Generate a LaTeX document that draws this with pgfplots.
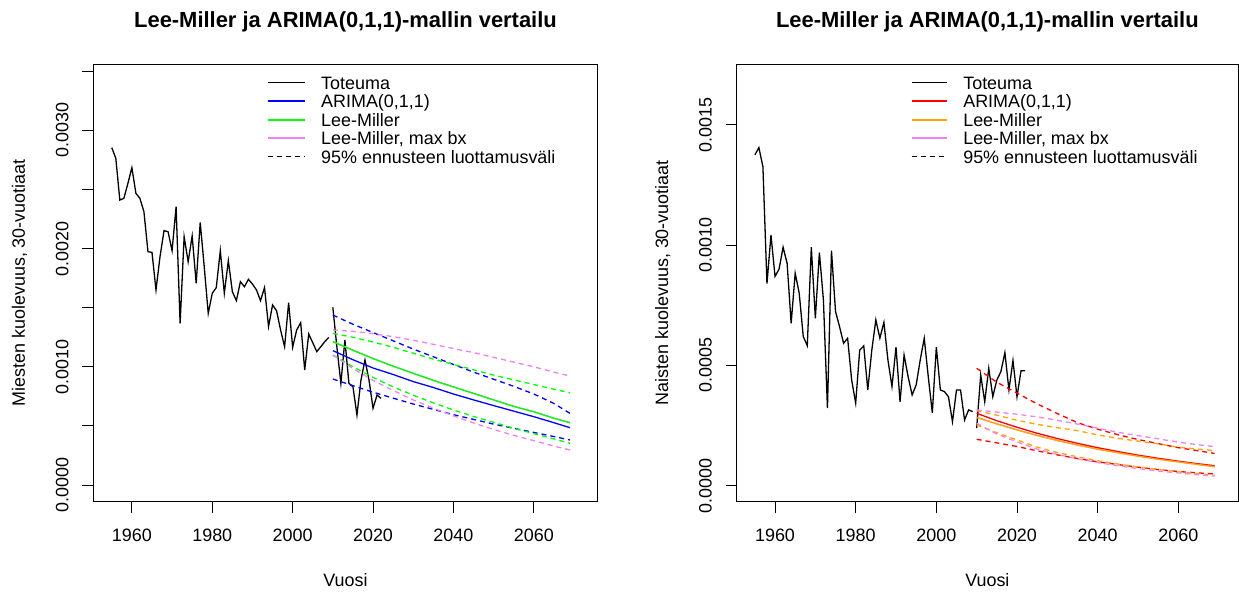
\documentclass[border=0pt]{standalone}
\usepackage{fontspec}
\setmainfont{Liberation Sans}
\usepackage{pgfplots}
\pgfplotsset{compat=1.18}
\definecolor{rblue}{RGB}{0,0,255}
\definecolor{rgreen}{RGB}{0,255,0}
\definecolor{rviolet}{RGB}{238,130,238}
\definecolor{rred}{RGB}{255,0,0}
\definecolor{rorange}{RGB}{255,165,0}
\tikzset{rdash/.style={dash pattern=on 5bp off 4bp},
  legline/.style={line width=2bp},
  legtext/.style={anchor=base west, yshift=-6.4bp, inner sep=0pt, font=\fontsize{18}{21.6}\selectfont}}
\pgfplotsset{
  rstyle/.style={
    scale only axis,
    height=437.7bp,
    clip=false,
    scaled y ticks=false, scaled x ticks=false,
    axis line style={line width=0.9bp},
    tick style={line width=0.9bp, black},
    major tick length=11bp,
    tick align=outside,
    xtick pos=bottom, ytick pos=left,
    xtick={1960,1980,2000,2020,2040,2060},
    xticklabels={1960,1980,2000,2020,2040,2060},
    xticklabel style={anchor=base, yshift=-28.5bp, inner sep=0pt, font=\fontsize{18}{21.6}\selectfont},
    yticklabel style={xshift=-14bp, rotate=90, anchor=base, inner sep=0pt, font=\fontsize{18}{21.6}\selectfont},
    every axis title/.style={at={(axis description cs:0.5,1)}, anchor=base, yshift=36bp, font=\fontsize{22}{26}\selectfont\bfseries},
    every axis x label/.style={at={(axis description cs:0.5,0)}, anchor=base, yshift=-85bp, font=\fontsize{18}{21.6}\selectfont},
    every axis y label/.style={at={(axis description cs:0,0.5)}, xshift=-68.5bp, rotate=90, anchor=base, font=\fontsize{18}{21.6}\selectfont},
    every axis plot/.append style={line width=1.3bp},
    title={Lee-Miller ja ARIMA(0,1,1)-mallin vertailu},
    xlabel={Vuosi},
  },
}
\begin{document}
\begin{tikzpicture}[font=\fontsize{18}{21.6}\selectfont]
\useasboundingbox (0,0) rectangle (1239bp,594bp);
% ---------------- Left panel: men ----------------
\begin{axis}[rstyle,
  at={(93.3bp,92.3bp)}, anchor=south west,
  width=504.4bp,
  xmin=1950.4, xmax=2075.9,
  ymin=-0.0001413, ymax=0.003562,
  ytick={0,0.0005,0.001,0.0015,0.002,0.0025,0.003,0.0035},
  yticklabels={0.0000,{},0.0010,{},0.0020,{},0.0030,{}},
  ylabel={Miesten kuolevuus, 30-vuotiaat},
]
\addplot[black] table {
1955 2.854e-3
1956 2.764e-3
1957 2.411e-3
1958 2.425e-3
1959 2.55e-3
1960 2.685e-3
1961 2.468e-3
1962 2.425e-3
1963 2.312e-3
1964 1.974e-3
1965 1.968e-3
1966 1.65e-3
1967 1.932e-3
1968 2.152e-3
1969 2.143e-3
1970 1.983e-3
1971 2.355e-3
1972 1.368e-3
1973 2.101e-3
1974 1.889e-3
1975 2.107e-3
1976 1.706e-3
1977 2.222e-3
1978 1.847e-3
1979 1.452e-3
1980 1.622e-3
1981 1.67e-3
1982 1.983e-3
1983 1.622e-3
1984 1.898e-3
1985 1.636e-3
1986 1.56e-3
1987 1.72e-3
1988 1.678e-3
1989 1.74e-3
1990 1.70e-3
1991 1.65e-3
1992 1.56e-3
1993 1.67e-3
1994 1.34e-3
1995 1.523e-3
1996 1.475e-3
1997 1.311e-3
1998 1.17e-3
1999 1.543e-3
2000 1.165e-3
2001 1.311e-3
2002 1.373e-3
2003 0.973e-3
2004 1.277e-3
2005 1.204e-3
2006 1.128e-3
2007 1.17e-3
2008 1.213e-3
2009 1.249e-3
};
\addplot[black] table {
2010 1.503e-3
2011 1.17e-3
2012 0.86e-3
2013 1.227e-3
2014 0.86e-3
2015 0.832e-3
2016 0.592e-3
2017 0.888e-3
2018 1.058e-3
2019 0.888e-3
2020 0.649e-3
2021 0.761e-3
2022 0.733e-3
};
\addplot[rviolet] table {
2010 1.213e-3
2015 1.14e-3
2020 1.07e-3
2025 1.005e-3
2030 0.945e-3
2035 0.885e-3
2040 0.83e-3
2045 0.775e-3
2050 0.72e-3
2055 0.665e-3
2060 0.62e-3
2065 0.565e-3
2069 0.527e-3
};
\addplot[rblue] table {
2010 1.137e-3
2015 1.06e-3
2020 0.99e-3
2025 0.935e-3
2030 0.875e-3
2035 0.825e-3
2040 0.77e-3
2045 0.72e-3
2050 0.672e-3
2055 0.625e-3
2060 0.578e-3
2065 0.527e-3
2069 0.485e-3
};
\addplot[rblue, rdash] table {
2010 1.438e-3
2015 1.36e-3
2020 1.29e-3
2025 1.22e-3
2030 1.15e-3
2035 1.085e-3
2040 1.02e-3
2045 0.955e-3
2050 0.895e-3
2055 0.835e-3
2060 0.77e-3
2065 0.69e-3
2069 0.606e-3
};
\addplot[rblue, rdash] table {
2010 0.897e-3
2015 0.84e-3
2020 0.785e-3
2025 0.735e-3
2030 0.685e-3
2035 0.64e-3
2040 0.595e-3
2045 0.555e-3
2050 0.515e-3
2055 0.48e-3
2060 0.445e-3
2065 0.41e-3
2069 0.381e-3
};
\addplot[rgreen] table {
2010 1.213e-3
2015 1.14e-3
2020 1.07e-3
2025 1.005e-3
2030 0.945e-3
2035 0.885e-3
2040 0.83e-3
2045 0.775e-3
2050 0.72e-3
2055 0.665e-3
2060 0.62e-3
2065 0.565e-3
2069 0.527e-3
};
\addplot[rgreen, rdash] table {
2010 1.283e-3
2015 1.25e-3
2020 1.21e-3
2025 1.165e-3
2030 1.115e-3
2035 1.065e-3
2040 1.02e-3
2045 0.975e-3
2050 0.93e-3
2055 0.89e-3
2060 0.85e-3
2065 0.81e-3
2069 0.781e-3
};
\addplot[rgreen, rdash] table {
2010 1.10e-3
2015 1.0e-3
2020 0.91e-3
2025 0.83e-3
2030 0.76e-3
2035 0.695e-3
2040 0.635e-3
2045 0.58e-3
2050 0.53e-3
2055 0.48e-3
2060 0.435e-3
2065 0.39e-3
2069 0.353e-3
};
\addplot[rviolet, rdash] table {
2010 1.311e-3
2015 1.30e-3
2020 1.28e-3
2025 1.255e-3
2030 1.225e-3
2035 1.19e-3
2040 1.155e-3
2045 1.12e-3
2050 1.08e-3
2055 1.04e-3
2060 1.0e-3
2065 0.955e-3
2069 0.922e-3
};
\addplot[rviolet, rdash] table {
2010 1.10e-3
2015 0.985e-3
2020 0.885e-3
2025 0.80e-3
2030 0.72e-3
2035 0.65e-3
2040 0.585e-3
2045 0.525e-3
2050 0.47e-3
2055 0.42e-3
2060 0.375e-3
2065 0.33e-3
2069 0.296e-3
};
% legend (no box)
\draw[black, line width=1.3bp] (axis description cs:0.3464,0.9573) -- (axis description cs:0.4197,0.9573);
\draw[rblue, legline] (axis description cs:0.3464,0.9150) -- (axis description cs:0.4197,0.9150);
\draw[rgreen, legline] (axis description cs:0.3464,0.8728) -- (axis description cs:0.4197,0.8728);
\draw[rviolet, legline] (axis description cs:0.3464,0.8305) -- (axis description cs:0.4197,0.8305);
\draw[black, rdash, line width=1.3bp] (axis description cs:0.3464,0.7882) -- (axis description cs:0.4197,0.7882);
\node[legtext] at (axis description cs:0.4514,0.9573) {Toteuma};
\node[legtext] at (axis description cs:0.4514,0.9150) {ARIMA(0,1,1)};
\node[legtext] at (axis description cs:0.4514,0.8728) {Lee-Miller};
\node[legtext] at (axis description cs:0.4514,0.8305) {Lee-Miller, max bx};
\node[legtext] at (axis description cs:0.4514,0.7882) {95\% ennusteen luottamusväli};
\end{axis}
% ---------------- Right panel: women ----------------
\begin{axis}[rstyle,
  at={(736.7bp,92.3bp)}, anchor=south west,
  width=501.3bp,
  xmin=1950.5, xmax=2074.8,
  ymin=-0.0000665, ymax=0.0017527,
  ytick={0,0.0005,0.001,0.0015},
  yticklabels={0.0000,0.0005,0.0010,0.0015},
  ylabel={Naisten kuolevuus, 30-vuotiaat},
]
\addplot[black] table {
1955 1.375e-3
1956 1.405e-3
1957 1.326e-3
1958 0.84e-3
1959 1.042e-3
1960 0.87e-3
1961 0.90e-3
1962 0.991e-3
1963 0.924e-3
1964 0.675e-3
1965 0.883e-3
1966 0.80e-3
1967 0.62e-3
1968 0.582e-3
1969 0.991e-3
1970 0.696e-3
1971 0.969e-3
1972 0.772e-3
1973 0.322e-3
1974 0.977e-3
1975 0.724e-3
1976 0.661e-3
1977 0.592e-3
1978 0.613e-3
1979 0.44e-3
1980 0.343e-3
1981 0.564e-3
1982 0.581e-3
1983 0.398e-3
1984 0.564e-3
1985 0.689e-3
1986 0.613e-3
1987 0.679e-3
1988 0.522e-3
1989 0.412e-3
1990 0.576e-3
1991 0.349e-3
1992 0.543e-3
1993 0.453e-3
1994 0.377e-3
1995 0.419e-3
1996 0.522e-3
1997 0.613e-3
1998 0.453e-3
1999 0.303e-3
2000 0.576e-3
2001 0.398e-3
2002 0.391e-3
2003 0.37e-3
2004 0.266e-3
2005 0.398e-3
2006 0.398e-3
2007 0.273e-3
2008 0.315e-3
2009 0.308e-3
};
\addplot[black] table {
2010 0.239e-3
2011 0.46e-3
2012 0.349e-3
2013 0.488e-3
2014 0.37e-3
2015 0.439e-3
2016 0.474e-3
2017 0.553e-3
2018 0.398e-3
2019 0.52e-3
2020 0.37e-3
2021 0.478e-3
2022 0.478e-3
};
\addplot[rviolet] table {
2010 0.284e-3
2015 0.257e-3
2020 0.232e-3
2025 0.209e-3
2030 0.188e-3
2035 0.169e-3
2040 0.152e-3
2045 0.137e-3
2050 0.123e-3
2055 0.11e-3
2060 0.099e-3
2065 0.088e-3
2069 0.079e-3
};
\addplot[rred] table {
2010 0.301e-3
2015 0.27e-3
2020 0.243e-3
2025 0.218e-3
2030 0.196e-3
2035 0.176e-3
2040 0.158e-3
2045 0.142e-3
2050 0.127e-3
2055 0.114e-3
2060 0.102e-3
2065 0.091e-3
2069 0.083e-3
};
\addplot[rred, rdash] table {
2010 0.488e-3
2015 0.43e-3
2020 0.385e-3
2025 0.34e-3
2030 0.30e-3
2035 0.262e-3
2040 0.235e-3
2045 0.212e-3
2050 0.192e-3
2055 0.175e-3
2060 0.158e-3
2065 0.145e-3
2069 0.134e-3
};
\addplot[rred, rdash] table {
2010 0.193e-3
2015 0.178e-3
2020 0.163e-3
2025 0.145e-3
2030 0.128e-3
2035 0.113e-3
2040 0.099e-3
2045 0.088e-3
2050 0.077e-3
2055 0.067e-3
2060 0.059e-3
2065 0.053e-3
2069 0.0487e-3
};
\addplot[rorange] table {
2010 0.284e-3
2015 0.257e-3
2020 0.232e-3
2025 0.209e-3
2030 0.188e-3
2035 0.169e-3
2040 0.152e-3
2045 0.137e-3
2050 0.123e-3
2055 0.11e-3
2060 0.099e-3
2065 0.088e-3
2069 0.079e-3
};
\addplot[rorange, rdash] table {
2010 0.312e-3
2015 0.293e-3
2020 0.272e-3
2025 0.255e-3
2030 0.241e-3
2035 0.229e-3
2040 0.211e-3
2045 0.197e-3
2050 0.185e-3
2055 0.174e-3
2060 0.16e-3
2065 0.152e-3
2069 0.1455e-3
};
\addplot[rorange, rdash] table {
2010 0.252e-3
2015 0.22e-3
2020 0.19e-3
2025 0.16e-3
2030 0.138e-3
2035 0.12e-3
2040 0.104e-3
2045 0.09e-3
2050 0.078e-3
2055 0.067e-3
2060 0.058e-3
2065 0.05e-3
2069 0.0445e-3
};
\addplot[rviolet, rdash] table {
2010 0.315e-3
2015 0.306e-3
2020 0.297e-3
2025 0.286e-3
2030 0.272e-3
2035 0.256e-3
2040 0.239e-3
2045 0.222e-3
2050 0.208e-3
2055 0.195e-3
2060 0.181e-3
2065 0.17e-3
2069 0.162e-3
};
\addplot[rviolet, rdash] table {
2010 0.26e-3
2015 0.215e-3
2020 0.182e-3
2025 0.152e-3
2030 0.13e-3
2035 0.112e-3
2040 0.096e-3
2045 0.083e-3
2050 0.071e-3
2055 0.061e-3
2060 0.053e-3
2065 0.045e-3
2069 0.040e-3
};
% legend (no box)
\draw[black, line width=1.3bp] (axis description cs:0.3491,0.9573) -- (axis description cs:0.4201,0.9573);
\draw[rred, legline] (axis description cs:0.3491,0.9150) -- (axis description cs:0.4201,0.9150);
\draw[rorange, legline] (axis description cs:0.3491,0.8728) -- (axis description cs:0.4201,0.8728);
\draw[rviolet, legline] (axis description cs:0.3491,0.8305) -- (axis description cs:0.4201,0.8305);
\draw[black, rdash, line width=1.3bp] (axis description cs:0.3491,0.7882) -- (axis description cs:0.4201,0.7882);
\node[legtext] at (axis description cs:0.4516,0.9573) {Toteuma};
\node[legtext] at (axis description cs:0.4516,0.9150) {ARIMA(0,1,1)};
\node[legtext] at (axis description cs:0.4516,0.8728) {Lee-Miller};
\node[legtext] at (axis description cs:0.4516,0.8305) {Lee-Miller, max bx};
\node[legtext] at (axis description cs:0.4516,0.7882) {95\% ennusteen luottamusväli};
\end{axis}
\end{tikzpicture}
\end{document}
